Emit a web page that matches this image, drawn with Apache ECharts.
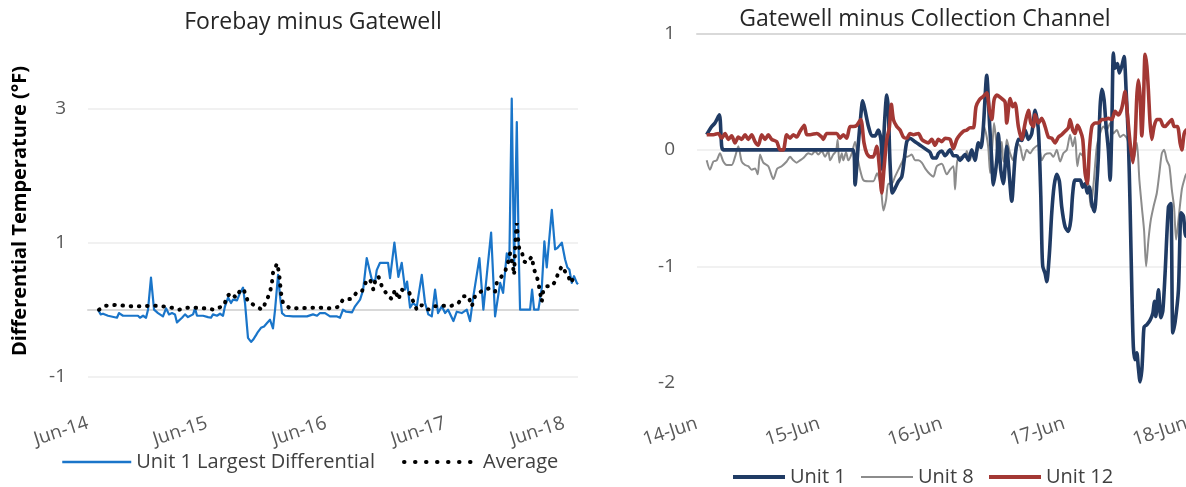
<!DOCTYPE html>
<html>
<head>
<meta charset="utf-8">
<script src="https://cdn.jsdelivr.net/npm/echarts@6/dist/echarts.min.js"></script>
<style>
  html, body { margin: 0; padding: 0; background: #fff; }
  #chart { width: 1186px; height: 487px; }
</style>
</head>
<body>
<div id="chart"></div>
<script>
// x values are months counted from June 2014; y values are °F differences
const leftTickLabels = ['Jun-14', 'Jun-15', 'Jun-16', 'Jun-17', 'Jun-18'];
const rightTickLabels = ['14-Jun', '15-Jun', '16-Jun', '17-Jun', '18-Jun'];
const leftYLabels = [-1, 1, 3];
const rightYLabels = [-2, -1, 0, 1];

// Forebay minus Gatewell
const forebayUnit1 = [
  [1.01,0.0],[1.28,-0.07],[1.51,-0.06],[2.02,-0.09],[2.92,-0.12],[3.13,-0.05],[3.53,-0.09],[5.04,-0.09],
  [5.24,-0.12],[5.55,-0.09],[5.85,-0.12],[6.05,0.0],[6.35,0.48],[6.66,0.0],[7.06,-0.05],[7.56,-0.1],
  [7.87,0.02],[8.17,-0.07],[8.47,-0.05],[8.77,-0.07],[8.97,-0.19],[9.48,-0.12],[9.78,-0.07],[10.08,-0.11],
  [10.59,-0.07],[10.79,0.02],[10.99,-0.09],[11.6,-0.09],[12.1,-0.11],[12.4,-0.12],[12.6,-0.07],[13.0,-0.09],
  [13.31,-0.06],[13.61,-0.09],[13.81,0.05],[14.12,0.18],[14.42,0.1],[14.62,0.15],[15.02,0.14],[15.33,0.25],
  [15.63,0.33],[15.83,0.1],[16.03,-0.25],[16.13,-0.42],[16.44,-0.48],[16.64,-0.45],[16.94,-0.38],[17.14,-0.33],
  [17.44,-0.27],[17.75,-0.25],[18.05,-0.2],[18.35,-0.15],[18.65,-0.28],[18.86,0.0],[19.16,0.52],[19.36,0.2],
  [19.56,-0.05],[19.87,-0.09],[20.67,-0.1],[22.08,-0.1],[22.69,-0.07],[23.09,-0.09],[23.39,-0.05],[23.9,-0.05],
  [24.4,-0.1],[25.11,-0.1],[25.41,-0.12],[25.71,0.0],[26.02,-0.03],[26.62,-0.04],[26.92,0.05],[27.43,0.15],
  [27.73,0.29],[28.1,0.77],[28.61,0.45],[28.94,0.42],[29.11,0.59],[29.44,0.7],[30.25,0.7],[30.45,0.47],
  [30.89,1.0],[31.29,0.49],[31.63,0.7],[31.97,0.3],[32.17,0.42],[32.47,0.03],[32.77,0.1],[33.15,0.05],
  [33.65,0.52],[33.98,0.1],[34.31,-0.07],[34.66,-0.1],[34.99,0.3],[35.29,-0.05],[35.67,0.05],[36.0,-0.05],
  [36.3,0.0],[36.84,-0.17],[37.18,-0.03],[37.68,-0.05],[38.19,0.0],[38.52,-0.17],[38.85,0.2],[39.46,0.77],
  [39.86,0.0],[40.26,0.6],[40.64,1.15],[41.04,-0.1],[41.55,0.4],[41.85,0.25],[42.22,0.84],[42.48,0.75],
  [42.72,3.15],[42.96,0.65],[43.23,2.8],[43.43,0.8],[43.56,0.0],[44.57,0.0],[44.77,0.3],[44.97,0.0],
  [45.41,0.0],[45.75,0.33],[46.01,1.02],[46.25,0.63],[46.76,1.49],[47.09,0.9],[47.32,0.92],[47.77,1.0],
  [48.1,0.75],[48.33,0.63],[48.53,0.6],[48.77,0.4],[49.0,0.5],[49.28,0.4],[49.4,0.38]
];
const forebayAverage = [
  [1.11,0.0],[1.82,0.06],[2.72,0.07],[3.63,0.06],[4.44,0.05],[5.45,0.05],[6.25,0.06],[6.76,0.06],
  [7.56,0.05],[8.17,0.04],[9.18,0.0],[10.08,0.03],[10.79,0.03],[11.8,0.02],[12.71,0.0],[13.71,0.06],
  [14.02,0.2],[14.42,0.25],[14.92,0.18],[15.43,0.31],[15.73,0.29],[16.13,0.12],[16.84,0.06],[17.55,0.0],
  [17.95,0.12],[18.35,0.26],[18.55,0.41],[18.65,0.55],[19.06,0.69],[19.26,0.55],[19.36,0.4],[19.46,0.25],
  [19.66,0.1],[20.37,0.02],[21.38,0.02],[22.39,0.03],[23.39,0.03],[24.3,0.02],[25.21,0.04],[25.71,0.15],
  [26.52,0.16],[27.12,0.26],[27.6,0.27],[28.1,0.44],[28.44,0.45],[28.77,0.3],[28.94,0.42],[29.27,0.5],
  [29.62,0.35],[29.95,0.27],[30.28,0.2],[30.62,0.16],[30.96,0.3],[31.29,0.15],[31.63,0.3],[31.97,0.27],
  [32.4,0.25],[32.8,0.12],[33.15,0.0],[33.65,0.07],[34.31,0.0],[34.82,0.05],[35.67,0.06],[36.5,0.05],
  [37.34,0.1],[37.84,0.2],[38.35,0.2],[38.69,0.05],[39.02,0.2],[39.86,0.3],[40.54,0.32],[41.04,0.27],
  [41.21,0.4],[41.71,0.5],[42.05,0.57],[42.38,0.72],[42.55,0.84],[42.82,0.67],[42.96,0.52],[43.06,0.92],
  [43.16,1.17],[43.23,1.29],[43.33,1.09],[43.49,0.89],[43.73,0.87],[43.96,0.72],[44.24,0.7],[44.74,0.79],
  [44.97,0.6],[45.24,0.5],[45.41,0.4],[45.58,0.25],[45.75,0.12],[45.91,0.3],[46.25,0.35],[46.76,0.35],
  [47.09,0.42],[47.42,0.55],[47.77,0.65],[48.1,0.57],[48.43,0.5],[48.67,0.4],[48.94,0.47],[49.28,0.42]
];

// Gatewell minus Collection Channel
const gatewellUnit1 = [
  [0.95,0.13],[1.44,0.2],[1.76,0.23],[2.19,0.3],[2.42,0.03],[2.58,0.0],[15.32,0.0],[15.49,-0.3],
  [15.81,0.05],[16.05,0.29],[16.24,0.42],[16.47,0.34],[16.81,0.2],[17.15,0.12],[17.45,0.12],[17.77,0.17],
  [18.04,0.08],[18.2,-0.17],[18.36,0.2],[18.6,0.47],[18.75,0.35],[18.92,-0.11],[19.15,-0.37],[19.41,-0.33],
  [19.74,-0.27],[20.07,-0.23],[20.29,-0.1],[20.56,0.07],[20.88,0.1],[21.37,0.07],[21.7,0.05],[22.03,0.03],
  [22.52,0.0],[22.84,-0.02],[23.11,-0.07],[23.43,-0.07],[23.66,-0.03],[23.99,-0.01],[24.31,-0.05],[24.8,0.0],
  [25.13,-0.05],[25.46,-0.05],[25.78,-0.09],[26.27,-0.04],[26.6,-0.09],[26.93,0.0],[27.25,-0.09],[27.58,0.06],
  [27.84,0.02],[28.07,0.2],[28.4,0.64],[28.66,0.25],[28.89,-0.09],[29.05,-0.3],[29.38,-0.09],[29.54,0.14],
  [29.77,-0.17],[30.03,-0.29],[30.36,0.03],[30.54,-0.14],[30.85,-0.44],[31.18,-0.06],[31.5,0.09],[31.83,0.08],
  [32.16,0.17],[32.48,0.09],[32.81,0.14],[33.14,0.34],[33.46,0.17],[33.7,-0.4],[33.79,-0.77],[33.89,-1.0],
  [34.12,-1.06],[34.28,-1.13],[34.54,-0.89],[34.77,-0.54],[35.0,-0.31],[35.26,-0.21],[35.52,-0.27],[35.75,-0.49],
  [36.08,-0.66],[36.4,-0.7],[36.64,-0.6],[36.83,-0.37],[37.06,-0.26],[37.55,-0.26],[37.81,-0.32],[38.04,-0.29],
  [38.26,-0.37],[38.46,-0.32],[38.7,-0.46],[38.95,-0.53],[39.19,-0.29],[39.34,-0.06],[39.51,0.37],[39.68,0.52],
  [39.9,0.43],[40.1,0.2],[40.32,0.0],[40.49,-0.26],[40.66,0.2],[40.81,0.83],[40.98,0.7],[41.21,0.74],
  [41.4,0.66],[41.64,0.72],[41.86,0.8],[42.06,0.51],[42.28,0.09],[42.45,-0.49],[42.62,-1.2],[42.77,-1.69],
  [42.94,-1.8],[43.11,-1.74],[43.26,-1.87],[43.43,-1.99],[43.6,-1.89],[43.7,-1.72],[43.82,-1.52],[44.09,-1.5],
  [44.41,-1.46],[44.68,-1.4],[44.83,-1.3],[44.97,-1.43],[45.23,-1.2],[45.46,-1.44],[45.66,-1.38],[45.88,-1.06],
  [46.21,-0.49],[46.44,-0.46],[46.64,-1.57],[46.86,-1.48],[47.19,-1.2],[47.45,-0.54],[47.68,-0.57],[47.94,-0.74],
  [48.53,-0.72]
];
const gatewellUnit8 = [
  [0.95,-0.09],[1.27,-0.17],[1.6,-0.1],[1.93,-0.09],[2.25,-0.03],[2.58,-0.1],[2.91,-0.13],[3.4,-0.13],
  [3.73,-0.06],[4.05,0.03],[4.38,-0.1],[4.71,-0.13],[5.03,-0.14],[5.36,-0.17],[5.69,-0.16],[5.95,-0.21],
  [6.18,-0.04],[6.5,-0.11],[6.99,-0.14],[7.48,-0.25],[7.87,-0.16],[8.3,-0.14],[8.79,-0.1],[9.12,-0.06],
  [9.44,-0.09],[9.77,-0.11],[10.1,-0.09],[10.42,-0.07],[10.91,-0.03],[11.25,-0.04],[11.57,-0.01],[11.89,-0.04],
  [12.23,-0.01],[12.55,-0.06],[12.87,-0.01],[13.04,-0.09],[13.36,-0.04],[13.63,-0.01],[13.79,0.09],[13.95,-0.11],
  [14.19,-0.03],[14.34,-0.09],[14.61,-0.02],[14.83,-0.09],[15.17,-0.03],[15.49,0.07],[15.81,-0.1],[15.98,-0.17],
  [16.3,-0.26],[16.79,-0.27],[17.28,-0.27],[17.65,-0.2],[18.01,-0.31],[18.27,-0.52],[18.53,-0.43],[18.75,-0.29],
  [19.09,-0.29],[19.41,-0.23],[19.74,-0.17],[20.07,-0.11],[20.39,-0.06],[20.62,-0.06],[21.05,-0.04],[21.37,-0.09],
  [21.7,-0.09],[22.03,-0.11],[22.45,-0.17],[22.84,-0.21],[23.17,-0.23],[23.5,-0.14],[23.99,-0.12],[24.48,-0.21],
  [24.8,-0.17],[25.13,-0.14],[25.29,-0.34],[25.52,-0.09],[25.95,-0.06],[26.27,-0.06],[26.44,-0.01],[26.76,-0.09],
  [26.93,-0.03],[27.25,-0.04],[27.58,0.01],[27.91,0.1],[28.14,0.2],[28.4,0.11],[28.56,0.01],[28.73,-0.2],
  [28.99,0.09],[29.12,0.23],[29.38,0.03],[29.61,-0.11],[29.87,0.07],[30.03,-0.1],[30.2,-0.09],[30.36,0.09],
  [30.69,-0.03],[31.01,-0.09],[31.34,0.06],[31.67,0.03],[31.99,-0.09],[32.32,0.0],[32.65,-0.03],[32.97,0.01],
  [33.46,0.04],[33.79,-0.09],[34.12,-0.04],[34.61,-0.03],[34.93,-0.06],[35.26,0.0],[35.59,-0.1],[35.91,-0.03],
  [36.25,0.0],[36.57,0.13],[36.83,0.03],[37.06,0.11],[37.28,-0.14],[37.55,-0.03],[37.87,-0.06],[38.14,-0.26],
  [38.36,-0.29],[38.6,-0.49],[38.85,-0.31],[39.19,0.03],[39.51,0.14],[39.83,0.2],[40.17,0.17],[40.49,0.23],
  [40.81,0.14],[41.15,0.17],[41.47,0.11],[41.8,0.13],[42.13,0.1],[42.45,0.0],[42.77,-0.09],[43.11,0.06],
  [43.36,-0.26],[43.6,-0.49],[43.82,-0.69],[44.02,-1.0],[44.25,-0.77],[44.48,-0.6],[44.74,-0.49],[45.07,-0.37],
  [45.32,-0.2],[45.56,-0.03],[45.78,0.0],[46.05,-0.09],[46.3,-0.14],[46.54,-0.34],[46.76,-0.49],[46.96,-0.77],
  [47.19,-0.6],[47.52,-0.34],[47.75,-0.26],[47.94,-0.21],[48.53,-0.18]
];
const gatewellUnit12 = [
  [0.95,0.13],[1.6,0.13],[2.09,0.14],[2.42,0.1],[2.75,0.14],[3.07,0.09],[3.4,0.12],[3.73,0.06],
  [4.05,0.11],[4.38,0.09],[4.71,0.13],[5.03,0.09],[5.36,0.13],[5.69,0.07],[6.01,0.04],[6.34,0.13],
  [6.67,0.09],[6.99,0.13],[7.32,0.09],[7.81,0.07],[8.14,0.0],[8.46,0.0],[8.79,0.13],[9.12,0.1],
  [9.44,0.13],[9.77,0.11],[10.1,0.16],[10.52,0.21],[10.75,0.13],[11.08,0.13],[11.74,0.14],[12.23,0.11],
  [12.38,0.09],[12.72,0.14],[13.7,0.14],[14.02,0.1],[14.34,0.13],[14.68,0.1],[15.0,0.2],[15.32,0.2],
  [15.66,0.21],[16.05,0.26],[16.37,0.06],[16.64,-0.03],[16.96,-0.06],[17.28,-0.06],[17.62,0.03],[17.87,-0.14],
  [18.11,-0.37],[18.33,-0.16],[18.6,0.09],[18.85,0.19],[19.05,0.39],[19.25,0.26],[19.58,0.2],[19.9,0.17],
  [20.23,0.11],[20.56,0.1],[20.88,0.14],[21.21,0.13],[21.7,0.14],[22.03,0.09],[22.35,0.07],[22.68,0.06],
  [23.01,0.09],[23.33,0.04],[23.66,0.09],[23.99,0.07],[24.31,0.1],[24.8,0.09],[25.13,0.01],[25.46,0.09],
  [25.78,0.13],[26.11,0.16],[26.44,0.17],[26.76,0.19],[27.09,0.19],[27.35,0.37],[27.68,0.43],[28.07,0.46],
  [28.4,0.49],[28.66,0.34],[28.89,0.26],[29.12,0.43],[29.38,0.47],[29.87,0.44],[30.2,0.41],[30.36,0.23],
  [30.69,0.44],[30.95,0.37],[31.18,0.4],[31.5,0.2],[31.83,0.09],[32.16,0.23],[32.48,0.34],[32.72,0.23],
  [32.97,0.2],[33.14,0.3],[33.46,0.23],[33.79,0.27],[34.12,0.2],[34.44,0.11],[34.77,0.1],[35.1,0.06],
  [35.42,0.11],[35.75,0.13],[36.08,0.16],[36.4,0.19],[36.57,0.26],[36.83,0.17],[37.06,0.14],[37.28,0.21],
  [37.55,0.17],[37.81,0.09],[38.04,-0.2],[38.26,-0.29],[38.46,0.0],[38.7,0.2],[39.02,0.23],[39.34,0.23],
  [39.68,0.26],[40.0,0.26],[40.32,0.27],[40.66,0.26],[40.98,0.33],[41.3,0.3],[41.64,0.36],[41.96,0.5],
  [42.13,0.36],[42.45,0.06],[42.72,-0.11],[42.94,0.09],[43.11,0.46],[43.26,0.6],[43.43,0.46],[43.6,0.12],
  [43.76,0.4],[43.92,0.82],[44.09,0.72],[44.25,0.5],[44.41,0.23],[44.58,0.09],[44.8,0.2],[45.07,0.26],
  [45.39,0.26],[45.66,0.21],[45.88,0.2],[46.21,0.23],[46.54,0.26],[46.76,0.2],[47.09,0.2],[47.35,0.06],
  [47.52,0.0],[47.75,0.14],[47.94,0.17],[48.53,0.2]
];

const FONT = "'Open Sans', 'Noto Sans', sans-serif";
const X_MAX = 49.4;
const GRID_COLOR = '#ececec';
const AXIS_COLOR = '#d9d9d9';
const LABEL_COLOR = '#595959';

function yearLabel(labels) {
  return v => {
    const i = Math.round(v / 12);
    return Math.abs(v - i * 12) < 1e-6 && i < labels.length ? labels[i] : '';
  };
}
function listedLabel(list) {
  return v => list.some(t => Math.abs(t - v) < 1e-6) ? String(v) : '';
}

function dateAxis(gridIndex, labels, margin) {
  return {
    gridIndex, type: 'value', min: 0, max: X_MAX, interval: 12,
    axisLine: { show: false, onZero: false },
    axisTick: { show: false },
    splitLine: { show: false },
    axisLabel: {
      rotate: 18, margin, fontSize: 19, color: LABEL_COLOR, fontFamily: FONT,
      formatter: yearLabel(labels)
    }
  };
}
// an extra unlabeled x axis used only to draw a horizontal reference line
function refLineAxis(gridIndex, extra) {
  return Object.assign({
    gridIndex, type: 'value', min: 0, max: X_MAX,
    axisTick: { show: false }, axisLabel: { show: false }, splitLine: { show: false },
    axisLine: { show: true, lineStyle: { color: AXIS_COLOR, width: 2 } }
  }, extra);
}

const chart = echarts.init(document.getElementById('chart'), null, { renderer: 'canvas' });

const legendText = { fontSize: 20, color: '#404040', fontFamily: FONT, lineHeight: 24 };
function legendItem(name, left, top, width, lineStyle) {
  return {
    data: [name], left, top, itemWidth: width, itemHeight: 14,
    itemStyle: { opacity: 0 }, lineStyle, textStyle: legendText,
    selectedMode: false, padding: 0
  };
}

chart.setOption({
  animation: false,
  backgroundColor: '#fff',
  grid: [
    { left: 88, top: 95.3, width: 490, height: 281.4, outerBoundsMode: 'none', containLabel: false },
    { left: 697, top: 33.3, width: 504, height: 349.7, outerBoundsMode: 'none', containLabel: false }
  ],
  xAxis: [
    dateAxis(0, leftTickLabels, 46),
    refLineAxis(0, { axisLine: { show: true, onZero: true, lineStyle: { color: AXIS_COLOR, width: 2 } } }),
    dateAxis(1, rightTickLabels, 40),
    refLineAxis(1, { position: 'top', axisLine: { show: true, onZero: false, lineStyle: { color: AXIS_COLOR, width: 2 } } })
  ],
  yAxis: [
    {
      gridIndex: 0, type: 'value', min: -1, max: 3.2, interval: 2,
      axisLine: { show: false }, axisTick: { show: false },
      axisLabel: { margin: 22, fontSize: 19, color: LABEL_COLOR, fontFamily: FONT, formatter: listedLabel(leftYLabels) },
      splitLine: { show: true, showMaxLine: false, lineStyle: { color: GRID_COLOR, width: 1.5 } }
    },
    {
      gridIndex: 1, type: 'value', min: -2, max: 1, interval: 1,
      axisLine: { show: false }, axisTick: { show: false },
      axisLabel: { margin: 22, fontSize: 19, color: LABEL_COLOR, fontFamily: FONT, formatter: listedLabel(rightYLabels) },
      splitLine: { show: true, showMinLine: false, showMaxLine: false, lineStyle: { color: GRID_COLOR, width: 1.5 } }
    }
  ],
  legend: [
    legendItem('Unit 1 Largest Differential', 61, 450, 69, { width: 2.5 }),
    legendItem('Average', 402, 450, 74, { width: 4, type: [0.5, 10.5], cap: 'round' }),
    legendItem('Unit 1', 731, 465, 52, { width: 4 }),
    legendItem('Unit 8', 860, 465, 52, { width: 2 }),
    legendItem('Unit 12', 987, 465, 52, { width: 4 })
  ],
  graphic: [
    { type: 'text', x: 313, y: 22.5, style: { text: 'Forebay minus Gatewell', font: `23px ${FONT}`, fill: '#262626', textAlign: 'center', textVerticalAlign: 'middle' } },
    { type: 'text', x: 925, y: 19.5, style: { text: 'Gatewell minus Collection Channel', font: `23px ${FONT}`, fill: '#262626', textAlign: 'center', textVerticalAlign: 'middle' } },
    { type: 'text', x: 20, y: 211, rotation: Math.PI / 2, style: { text: 'Differential Temperature (°F)', font: `bold 20px ${FONT}`, fill: '#000', textAlign: 'center', textVerticalAlign: 'middle' } }
  ],
  series: [
    {
      name: 'Unit 1 Largest Differential', type: 'line', xAxisIndex: 0, yAxisIndex: 0,
      data: forebayUnit1, symbol: 'none', z: 3,
      lineStyle: { color: '#1a75c9', width: 2.2, join: 'round' }, itemStyle: { color: '#1a75c9' }
    },
    {
      name: 'Average', type: 'line', xAxisIndex: 0, yAxisIndex: 0,
      data: forebayAverage, symbol: 'none', z: 4,
      lineStyle: { color: '#000', width: 4, type: [0.5, 7.7], cap: 'round' }, itemStyle: { color: '#000' }
    },
    {
      name: 'Unit 1', type: 'line', xAxisIndex: 2, yAxisIndex: 1,
      data: gatewellUnit1, symbol: 'none', z: 3, smooth: 0.25,
      lineStyle: { color: '#203b64', width: 3.6, join: 'round' }, itemStyle: { color: '#203b64' }
    },
    {
      name: 'Unit 8', type: 'line', xAxisIndex: 2, yAxisIndex: 1,
      data: gatewellUnit8, symbol: 'none', z: 2, smooth: 0.25,
      lineStyle: { color: '#8c8c8c', width: 2, join: 'round' }, itemStyle: { color: '#8c8c8c' }
    },
    {
      name: 'Unit 12', type: 'line', xAxisIndex: 2, yAxisIndex: 1,
      data: gatewellUnit12, symbol: 'none', z: 4, smooth: 0.25,
      lineStyle: { color: '#a33834', width: 3.6, join: 'round' }, itemStyle: { color: '#a33834' }
    }
  ]
});
</script>
</body>
</html>
